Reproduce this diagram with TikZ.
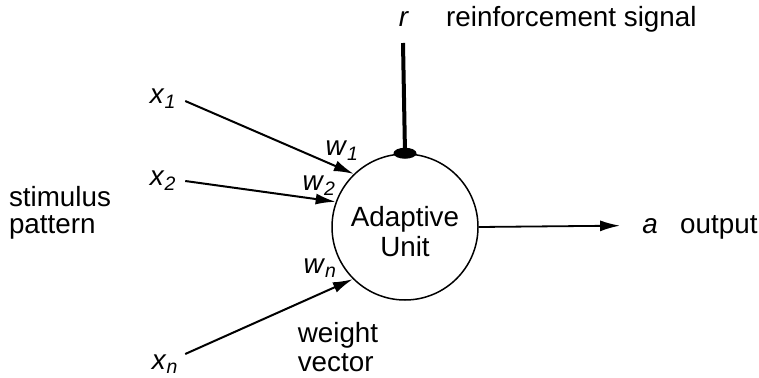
\documentclass[tikz,border=0pt]{standalone}
\usepackage{fontspec}
\setmainfont{Liberation Sans}
\usetikzlibrary{arrows.meta}
\begin{document}
\begin{tikzpicture}[x=1pt,y=-1pt,>={Latex[length=20pt,width=11pt]},
  font=\fontsize{27.8}{30}\selectfont,
  every node/.style={inner sep=2pt},
  unit/.style={draw,circle,line width=1.5pt,minimum size=146pt},
  input/.style={line width=2pt,->}]
\def\lab#1#2{\textit{#1}\textsubscript{\textit{#2}}}
\useasboundingbox (0,0) rectangle (759,377);
% adaptive unit
\node[unit] (unit) at (405,227) {};
\node[align=center] (ulab) at (405,232) {Adaptive\\Unit};
% inputs
\node (x1) at (163,99) {\lab{x}{1}};
\node (x2) at (163,181) {\lab{x}{2}};
\node (xn) at (165,364) {\lab{x}{n}};
\node (w1) at (342,151) {\lab{w}{1}};
\node (w2) at (319,186) {\lab{w}{2}};
\node (wn) at (320,268) {\lab{w}{n}};
\draw[input] ([xshift=7pt,yshift=-2pt]x1.east) -- (unit.134);
\draw[input] ([xshift=7pt]x2.east) -- (unit.160);
\draw[input] ([xshift=5pt,yshift=10pt]xn.east) -- (unit.225);
\node[align=left] (stim) at (60,213) {stimulus\\[-3pt]pattern};
\node[align=left] (wvec) at (338,347) {weight\\[-1pt]vector};
% reinforcement
\node[anchor=base] (r) at (404,27) {\textit{r}};
\node[anchor=base west] (rsig) at (444,27) {reinforcement signal};
\draw[line width=4pt] (403,43) coordinate (rtop) -- (unit.north);
\fill (unit.north) ellipse[x radius=11.5,y radius=5.5];
% output
\node[anchor=base] (a) at (650,233) {\textit{a}};
\node[anchor=base west] (out) at (678,233) {output};
\draw[line width=1.8pt,->] (unit.east) -- ([xshift=-20pt]a.west);
\end{tikzpicture}
\end{document}
